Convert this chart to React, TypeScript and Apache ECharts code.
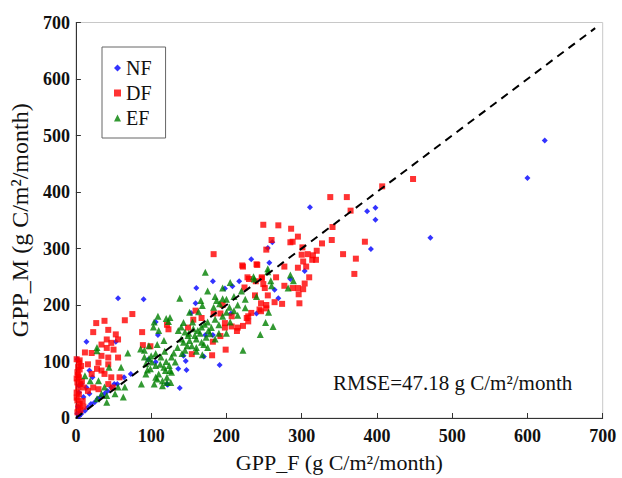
import React, { useEffect, useRef } from "react";
import * as echarts from "echarts";

const FONT = "'Liberation Serif', 'Times New Roman', serif";

const xTitle = "GPP_F (g C/m²/month)";
const yTitle = "GPP_M (g C/m²/month)";
const rmseLabel = "RMSE=47.18 g C/m²/month";
const seriesNames = ["NF", "DF", "EF"];
const refLine: [number, number][] = [[0, 0], [690, 690]];

const nfData: [number, number][] = [
  [623, 491], [600, 425], [471, 319], [398, 372], [387, 366], [398, 351], [392, 299],
  [311, 373], [233, 281], [257, 275], [261, 311], [255, 301], [304, 260], [285, 246],
  [264, 227], [269, 212], [240, 185], [182, 242], [217, 242], [198, 229], [160, 230],
  [159, 203], [206, 185], [153, 186], [106, 170], [172, 147], [182, 147], [143, 110],
  [136, 87], [147, 85], [191, 94], [106, 99], [121, 60], [208, 233], [138, 53], [122, 59],
  [170, 109], [146, 101], [56, 212], [90, 210], [14, 135], [53, 135], [109, 147], [96, 103],
  [7, 7], [12, 13], [16, 19], [20, 25], [25, 28], [29, 34], [33, 37], [38, 43], [42, 48],
  [47, 54], [51, 60], [55, 60], [64, 72], [73, 78], [10, 37], [18, 43], [14, 54], [7, 60],
  [22, 72], [18, 84], [2, 104], [4, 57], [4, 45], [4, 3], [6, 10], [3, 20], [2, 8],
];

const dfData: [number, number][] = [
  [448, 423], [407, 410], [360, 391], [338, 391], [365, 367], [341, 338], [340, 315],
  [384, 312], [355, 290], [372, 282], [370, 255], [249, 342], [269, 341], [286, 335],
  [295, 321], [288, 312], [285, 311], [327, 309], [260, 315], [253, 298], [301, 302],
  [308, 290], [315, 288], [320, 296], [300, 289], [302, 277], [319, 280], [314, 280],
  [240, 272], [222, 268], [277, 268], [295, 266], [306, 268], [266, 249], [228, 249],
  [247, 249], [310, 249], [304, 238], [277, 234], [249, 237], [251, 230], [288, 230],
  [295, 230], [302, 228], [296, 219], [238, 217], [255, 217], [264, 205], [274, 202],
  [246, 203], [297, 203], [253, 194], [244, 192], [233, 186], [229, 180], [183, 290],
  [221, 270], [241, 271], [230, 246], [224, 231], [239, 242], [247, 247], [149, 160],
  [154, 113], [181, 111], [199, 121], [182, 135], [192, 145], [198, 160], [198, 168],
  [207, 162], [215, 160], [156, 174], [167, 177], [121, 165], [123, 157], [207, 180],
  [227, 177], [229, 171], [222, 163], [214, 154], [246, 189], [253, 200], [159, 190],
  [183, 185], [192, 185], [195, 200], [75, 184], [65, 173], [38, 172], [27, 168], [88, 152],
  [43, 156], [23, 152], [53, 148], [56, 139], [41, 139], [34, 130], [47, 133], [99, 127],
  [89, 129], [41, 124], [50, 121], [21, 115], [34, 110], [43, 107], [56, 107], [12, 116],
  [10, 54], [16, 48], [23, 54], [30, 51], [43, 60], [49, 54], [21, 78], [28, 87], [34, 84],
  [38, 78], [47, 72], [58, 72], [16, 95], [30, 98], [43, 95], [1, 104], [4, 98], [3, 90],
  [2, 81], [4, 72], [2, 63], [3, 54], [4, 42], [2, 31], [3, 19], [2, 10], [5, 86], [1, 70],
  [6, 60], [1, 45], [5, 25], [6, 14], [1, 36], [3, 76], [5, 102], [7, 92], [8, 65], [9, 30],
  [10, 20],
];

const efData: [number, number][] = [
  [172, 258], [138, 212], [166, 208], [168, 199], [187, 208], [195, 211], [191, 202],
  [183, 196], [204, 196], [200, 187], [151, 187], [163, 188], [109, 180], [125, 178],
  [123, 171], [103, 161], [110, 155], [143, 169], [140, 161], [136, 155], [145, 152],
  [149, 146], [151, 137], [143, 134], [156, 158], [158, 146], [162, 155], [167, 161],
  [171, 166], [176, 155], [178, 149], [173, 143], [167, 134], [154, 128], [160, 125],
  [145, 120], [141, 114], [127, 108], [132, 99], [124, 93], [119, 84], [110, 78], [106, 72],
  [127, 81], [115, 66], [126, 63], [245, 148], [252, 169], [255, 259], [222, 120],
  [262, 162], [255, 264], [236, 250], [237, 246], [285, 253], [289, 243], [282, 230],
  [259, 243], [260, 234], [256, 187], [28, 125], [28, 119], [44, 90], [60, 90], [69, 115],
  [86, 122], [91, 120], [91, 108], [97, 105], [93, 96], [101, 99], [106, 93], [99, 87],
  [93, 78], [87, 60], [104, 60], [108, 69], [115, 57], [121, 63], [121, 72], [117, 90],
  [125, 84], [106, 114], [113, 108], [97, 128], [117, 137], [104, 170], [120, 176],
  [12, 75], [19, 66], [30, 66], [38, 55], [34, 43], [28, 34], [41, 40], [52, 43], [56, 55],
  [65, 55], [63, 37], [41, 28], [130, 115], [135, 125], [140, 140], [150, 150], [155, 170],
  [160, 140], [165, 150], [170, 130], [175, 170], [180, 160], [185, 175], [190, 165],
  [195, 180], [200, 150], [205, 170], [210, 190], [215, 200], [120, 100], [112, 95],
  [118, 118], [148, 128], [185, 140], [190, 150], [100, 110], [95, 85], [108, 130],
  [160, 118], [168, 112], [175, 125], [200, 210], [210, 215], [220, 225], [215, 182],
  [225, 195], [185, 215], [175, 225], [240, 215], [195, 230], [205, 240], [225, 210],
];

export default function App() {
  const ref = useRef<HTMLDivElement>(null);
  useEffect(() => {
    if (!ref.current) return;
    const chart = echarts.init(ref.current, null, { renderer: "svg" });
    const axisCommon = {
      type: "value" as const,
      min: 0,
      max: 700,
      interval: 100,
      nameLocation: "middle" as const,
      axisLine: { show: true, onZero: false, lineStyle: { color: "#333", width: 1 } },
      axisTick: { show: true, inside: true, length: 5, lineStyle: { color: "#333" } },
      axisLabel: { fontFamily: FONT, fontSize: 18, fontWeight: "bold" as const, color: "#111" },
      splitLine: { show: false },
    };
    chart.setOption({
      animation: false,
      backgroundColor: "#fff",
      grid: {
        left: 73.5,
        right: 19.3,
        top: 22.5,
        bottom: 56.5,
        show: true,
        borderColor: "#c8c8c8",
        borderWidth: 1,
      },
      xAxis: {
        ...axisCommon,
        name: xTitle,
        nameGap: 33,
        nameTextStyle: { fontFamily: FONT, fontSize: 22, color: "#111" },
        axisLabel: { ...axisCommon.axisLabel, margin: 9 },
      },
      yAxis: {
        ...axisCommon,
        name: yTitle,
        nameGap: 40,
        nameTextStyle: { fontFamily: FONT, fontSize: 24, color: "#111" },
        axisLabel: { ...axisCommon.axisLabel, margin: 6 },
      },
      legend: {
        orient: "vertical",
        left: 102,
        top: 47,
        backgroundColor: "#fff",
        borderColor: "#666",
        borderWidth: 1,
        borderRadius: 0,
        padding: [11, 14, 10, 12],
        itemWidth: 7,
        itemHeight: 7,
        itemGap: 5,
        textStyle: { fontFamily: FONT, fontSize: 20, color: "#111", lineHeight: 20 },
        data: [
          { name: seriesNames[0], icon: "diamond" },
          { name: seriesNames[1], icon: "rect" },
          { name: seriesNames[2], icon: "triangle" },
        ],
      },
      graphic: [
        {
          type: "text",
          left: 333,
          top: 372,
          style: { text: rmseLabel, font: `21px ${FONT}`, fill: "#111" },
        },
      ],
      series: [
        {
          name: "1:1",
          type: "line",
          data: refLine,
          symbol: "none",
          silent: true,
          lineStyle: { color: "#000", width: 2, type: [8, 6] },
          z: 5,
        },
        {
          name: seriesNames[0],
          type: "scatter",
          data: nfData,
          symbol: "diamond",
          symbolSize: 6,
          itemStyle: { color: "#0000ff" },
          z: 2,
        },
        {
          name: seriesNames[1],
          type: "scatter",
          data: dfData,
          symbol: "rect",
          symbolSize: 6,
          itemStyle: { color: "#ff0000" },
          z: 3,
        },
        {
          name: seriesNames[2],
          type: "scatter",
          data: efData,
          symbol: "triangle",
          symbolSize: 7,
          itemStyle: { color: "#008000" },
          z: 4,
        },
      ],
    });
    return () => chart.dispose();
  }, []);
  return (
    <div
      ref={ref}
      style={{ position: "fixed", left: 0, top: 0, width: 622, height: 478 }}
    />
  );
}
